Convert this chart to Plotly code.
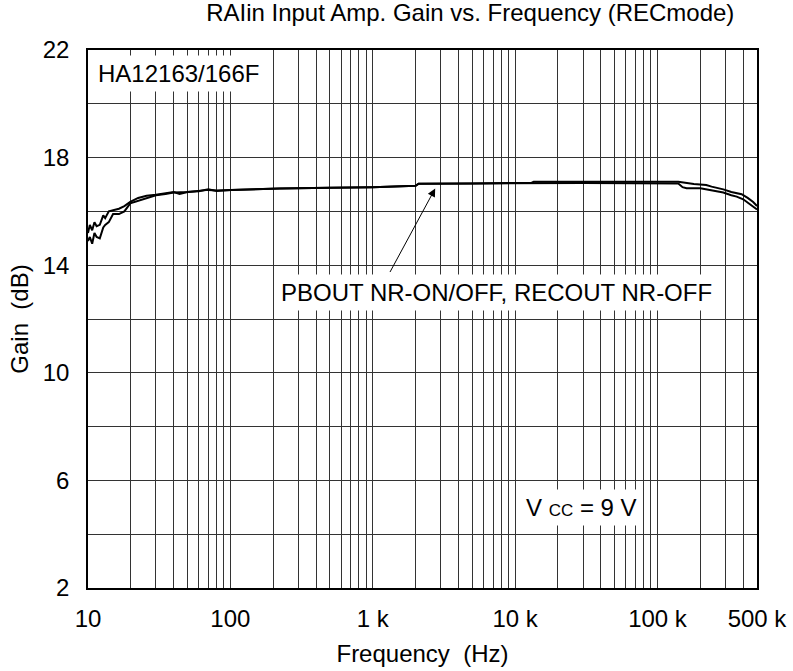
import plotly.graph_objects as go

# ---- data ----
freq_a = [10, 10.3, 10.7, 11.1, 11.5, 12.1, 12.8, 13.2, 14, 15, 16.5, 18, 19.8, 22.5, 25.8,
          30, 35, 40, 44, 50, 60, 70, 80, 100, 150, 222, 500, 1000, 2000, 2100, 5000,
          10000, 13000, 13500, 30000, 70000, 140000, 180000, 220000, 240000, 290000,
          330000, 390000, 430000, 470000, 500000]
gain_a = [15.2, 15.5, 15.3, 15.6, 15.45, 15.5, 15.85, 15.75, 16.0, 16.05, 16.1, 16.2, 16.35, 16.5, 16.58,
          16.62, 16.68, 16.72, 16.65, 16.72, 16.75, 16.82, 16.76, 16.8, 16.82, 16.85, 16.88, 16.9, 16.95, 17.03, 17.04,
          17.05, 17.06, 17.1, 17.1, 17.1, 17.1, 17.02, 16.98, 16.92, 16.82,
          16.72, 16.64, 16.5, 16.35, 16.2]

freq_b = [10, 10.3, 10.7, 11.1, 11.5, 12.1, 12.8, 13.2, 14, 15, 16.5, 18, 19.8, 22.5, 25.8,
          30, 35, 40, 50, 60, 70, 80, 100, 150, 222, 500, 1000, 2000, 2100, 5000,
          10000, 13000, 13500, 30000, 70000, 140000, 150000, 160000, 200000, 230000, 260000,
          290000, 330000, 360000, 400000, 450000, 500000]
gain_b = [14.9, 15.05, 14.8, 15.2, 15.05, 15.0, 15.4, 15.5, 15.6, 15.9, 15.9, 16.0, 16.3, 16.4, 16.5,
          16.6, 16.65, 16.7, 16.72, 16.75, 16.8, 16.78, 16.8, 16.82, 16.85, 16.88, 16.9, 16.95, 17.03, 17.04,
          17.05, 17.05, 17.06, 17.06, 17.05, 17.04, 16.9, 16.86, 16.86, 16.8, 16.74,
          16.7, 16.6, 16.55, 16.45, 16.25, 16.07]

x_tick_vals = [10, 100, 1000, 10000, 100000, 500000]
x_tick_text = ["10", "100", "1 k", "10 k", "100 k", "500 k"]
x_minor_vals = [m * d for d in [10, 100, 1000, 10000] for m in range(2, 10)] + [200000, 300000, 400000]
y_tick_vals = [2, 6, 10, 14, 18, 22]
y_minor_vals = [4, 8, 12, 16, 20]

FONT = "Liberation Sans, Arial, sans-serif"
FS = 24

fig = go.Figure()
fig.add_trace(go.Scatter(x=freq_a, y=gain_a, mode="lines",
                         line=dict(color="black", width=2), showlegend=False))
fig.add_trace(go.Scatter(x=freq_b, y=gain_b, mode="lines",
                         line=dict(color="black", width=2), showlegend=False))

fig.update_layout(
    width=793, height=671,
    margin=dict(l=87.5, r=36, t=49.5, b=83),
    paper_bgcolor="white", plot_bgcolor="white",
    font=dict(family=FONT, size=FS, color="black"),
    title=dict(text="RAIin Input Amp. Gain vs. Frequency (RECmode)",
               x=0.593, xref="container", xanchor="center",
               y=0.981, yref="container", yanchor="middle",
               font=dict(family=FONT, size=FS, color="black")),
    xaxis=dict(type="log", range=[1, 5.69897], automargin=False,
               tickmode="array", tickvals=x_tick_vals, ticktext=x_tick_text,
               showgrid=True, gridcolor="#333", gridwidth=1,
               minor=dict(tickmode="array", tickvals=x_minor_vals, showgrid=True,
                          gridcolor="#333", gridwidth=1, ticks=""),
               showline=True, linecolor="black", linewidth=1.5, mirror=True,
               ticks="", ticklabelstandoff=8, zeroline=False,
               title=dict(text="Frequency  (Hz)", standoff=15,
                          font=dict(family=FONT, size=FS))),
    yaxis=dict(range=[2, 22], tickmode="array", tickvals=y_tick_vals, automargin=False,
               showgrid=True, gridcolor="#333", gridwidth=1,
               minor=dict(tickmode="array", tickvals=y_minor_vals, showgrid=True,
                          gridcolor="#333", gridwidth=1, ticks=""),
               showline=True, linecolor="black", linewidth=1.5, mirror=True,
               ticks="", ticklabelstandoff=12, zeroline=False,
               title=dict(text="Gain  (dB)", standoff=7,
                          font=dict(family=FONT, size=FS))),
)

fig.add_annotation(text="HA12163/166F", xref="paper", yref="paper", x=0.135, y=0.956,
                   xanchor="center", yanchor="middle",
                   showarrow=False, bgcolor="white", borderpad=4,
                   font=dict(family=FONT, size=FS, color="black"))
fig.add_annotation(text="PBOUT NR-ON/OFF, RECOUT NR-OFF", xref="paper", yref="paper",
                   x=0.611, y=0.549, xanchor="center", yanchor="middle",
                   showarrow=False, bgcolor="white", borderpad=4,
                   font=dict(family=FONT, size=FS, color="black"))
fig.add_annotation(text="", x=3.4386, y=16.85, xref="x", yref="y",
                   showarrow=True, ax=-46, ay=85, arrowhead=2, arrowsize=1.6,
                   arrowwidth=1, arrowcolor="black", standoff=0)
fig.add_annotation(text="V <span style=\"font-size:17px\">CC</span> = 9 V", xref="paper", yref="paper",
                   x=0.738, y=0.149, xanchor="center", yanchor="middle",
                   showarrow=False, bgcolor="white", borderpad=4,
                   font=dict(family=FONT, size=FS, color="black"))

fig.write_html("out.html", config={"displayModeBar": False},
               post_script="document.body.style.margin='0';")
